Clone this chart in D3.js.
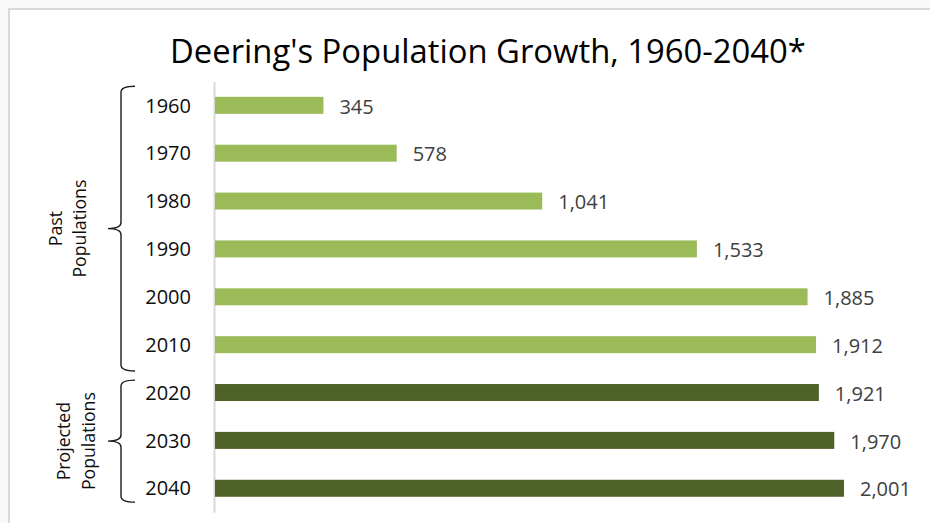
<!DOCTYPE html>
<html>
<head>
<meta charset="utf-8">
<script src="https://cdn.jsdelivr.net/npm/d3@7"></script>
<style>
  html, body { margin: 0; padding: 0; background: #f8f8f8; }
  svg { display: block; }
  text { font-family: "Open Sans", "Noto Sans", sans-serif; }
</style>
</head>
<body>
<svg id="chart" width="930" height="523"></svg>
<script>
const title = "Deering's Population Growth, 1960-2040*";
const categories = ["1960", "1970", "1980", "1990", "2000", "2010", "2020", "2030", "2040"];
const populations = [345, 578, 1041, 1533, 1885, 1912, 1921, 1970, 2001];
const periods = ["Past", "Past", "Past", "Past", "Past", "Past", "Projected", "Projected", "Projected"];
const groupNames = ["Past", "Projected"];
const groupLabels = [["Past", "Populations"], ["Projected", "Populations"]];

const colors = { Past: "#9BBB59", Projected: "#4F6228" };

const svg = d3.select("#chart");

// chart area background + border
svg.append("rect").attr("x", 9).attr("y", 9).attr("width", 940).attr("height", 540)
  .attr("fill", "#ffffff").attr("stroke", "#d9d9d9").attr("stroke-width", 2);

function fit(sel, target) {
  const w = sel.node().getComputedTextLength();
  const fs = parseFloat(sel.attr("font-size"));
  sel.attr("font-size", fs * target / w);
}

// title
const t = svg.append("text").attr("x", 488).attr("y", 63).attr("text-anchor", "middle")
  .attr("font-size", 30).attr("fill", "#000").text(title);
fit(t, 636);

const y = d3.scaleBand().domain(categories).range([81.4, 512.2])
  .paddingInner(0.645).paddingOuter(0.3225);
const x = d3.scaleLinear().domain([0, 2000]).range([215, 215 + 628.7]);

const data = categories.map((c, i) => ({ cat: c, val: populations[i], period: periods[i] }));

// axis
const axis = svg.append("g").attr("transform", "translate(214,0)")
  .call(d3.axisLeft(y).tickSizeInner(0).tickSizeOuter(0).tickPadding(23));
axis.select(".domain").attr("stroke", "#d9d9d9").attr("stroke-width", 2);
axis.selectAll(".tick text").attr("font-size", 20).attr("fill", "#0d0d0d")
  .attr("font-family", "\"Open Sans\", sans-serif").attr("dy", "0.36em");

// bars
svg.append("g").selectAll("rect").data(data).join("rect")
  .attr("x", x(0)).attr("y", d => y(d.cat))
  .attr("width", d => x(d.val) - x(0)).attr("height", y.bandwidth())
  .attr("fill", d => colors[d.period]);

// value labels
const fmt = d3.format(",");
svg.append("g").selectAll("text").data(data).join("text")
  .attr("x", d => x(d.val) + 16).attr("y", d => y(d.cat) + y.bandwidth() / 2 + 1)
  .attr("dy", "0.36em").attr("font-size", 20).attr("fill", "#404040")
  .text(d => fmt(d.val));

// group brackets
const step = y.step();
const bracketSpec = {
  Past: { top: -0.4, bottom: 0.55, lines: [62, 86] },
  Projected: { top: -0.26, bottom: 0.29, lines: [70, 95] }
};
groupNames.forEach((g, gi) => {
  const cats = categories.filter((c, i) => periods[i] === g);
  const c0 = y(cats[0]) + y.bandwidth() / 2;
  const c1 = y(cats[cats.length - 1]) + y.bandwidth() / 2;
  const top = c0 + bracketSpec[g].top * step;
  const bottom = c1 + bracketSpec[g].bottom * step;
  const mid = (top + bottom) / 2;
  const xv = 121, xh = 135, xt = 108;
  const p = d3.path();
  p.moveTo(xh, top);
  p.quadraticCurveTo(xv, top, xv, top + 6);
  p.lineTo(xv, mid - 6);
  p.quadraticCurveTo(xv, mid, xt, mid);
  p.quadraticCurveTo(xv, mid, xv, mid + 6);
  p.lineTo(xv, bottom - 6);
  p.quadraticCurveTo(xv, bottom, xh, bottom);
  svg.append("path").attr("d", p.toString()).attr("fill", "none")
    .attr("stroke", "#1a1a1a").attr("stroke-width", 1.4);

  groupLabels[gi].forEach((line, li) => {
    const tx = svg.append("text")
      .attr("transform", `translate(${bracketSpec[g].lines[li]},${mid}) rotate(-90)`)
      .attr("text-anchor", "middle").attr("font-size", 17).attr("fill", "#0d0d0d")
      .text(line);
    if (li === 1) fit(tx, 98);
    else tx.attr("font-size", null);
  });
});
// apply the same fitted size to all group label lines
const fitted = svg.selectAll("text[font-size]").filter(function() {
  return this.textContent === "Populations";
}).attr("font-size");
svg.selectAll("text").filter(function() { return !this.getAttribute("font-size"); })
  .attr("font-size", fitted);
</script>
</body>
</html>
